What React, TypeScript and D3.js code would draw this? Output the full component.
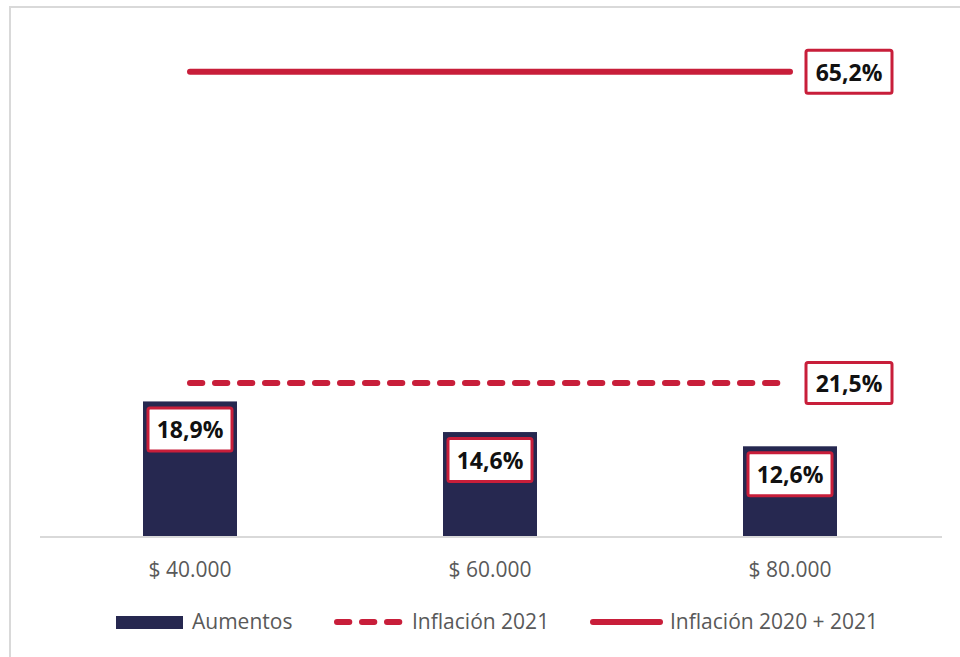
import React from "react";
import * as d3 from "d3";

const categories = ["$ 40.000", "$ 60.000", "$ 80.000"];
const aumentos = [18.9, 14.6, 12.6];
const inflacion2021 = 21.5;
const inflacion2020_2021 = 65.2;
const legendLabels = ["Aumentos", "Inflación 2021", "Inflación 2020 + 2021"];

const fmt = (v: number) => v.toFixed(1).replace(".", ",") + "%";

const W = 960;
const H = 657;
const NAVY = "#262850";
const RED = "#c81e3a";
const GRAY = "#595959";
const FONT = "'Open Sans', 'DejaVu Sans', sans-serif";

export default function App() {
  const x = d3.scaleBand<string>().domain(categories).range([40, 940]).paddingInner(0).paddingOuter(0);
  const y = d3.scaleLinear().domain([0, 70]).range([536, 536 - 70 * 7.12]);
  const barW = 94;
  const cx = (c: string) => (x(c) as number) + x.bandwidth() / 2;
  const lineX0 = cx(categories[0]);
  const lineX1 = cx(categories[categories.length - 1]);

  const lineGen = d3.line<[number, number]>().x((d) => d[0]).y((d) => d[1]);

  const LabelBox = ({ xc, yc, text, w = 85, h = 42 }: { xc: number; yc: number; text: string; w?: number; h?: number }) => (
    <g>
      <rect x={xc - w / 2} y={yc - h / 2} width={w} height={h} rx={2} fill="#fff" stroke={RED} strokeWidth={3} />
      <text x={xc} y={yc} textAnchor="middle" dominantBaseline="central" fontFamily={FONT} fontWeight={700} fontSize={23} fill="#111">
        {text}
      </text>
    </g>
  );

  const legendY = 622;

  return (
    <div style={{ position: "absolute", left: 0, top: 0 }}>
      <svg width={W} height={H} style={{ display: "block", background: "#fff" }}>
        <rect x={10} y={7} width={1000} height={1000} fill="#fff" stroke="#d9d9d9" strokeWidth={2} />

        {/* bars */}
        {categories.map((c, i) => (
          <rect key={c} x={cx(c) - barW / 2} y={y(aumentos[i])} width={barW} height={y(0) - y(aumentos[i])} fill={NAVY} />
        ))}

        {/* axis line */}
        <line x1={40} x2={942} y1={537} y2={537} stroke="#d9d9d9" strokeWidth={2} />

        {/* category labels */}
        {categories.map((c) => (
          <text key={c} x={cx(c)} y={577} textAnchor="middle" fontFamily={FONT} fontSize={21} fill={GRAY}>
            {c}
          </text>
        ))}

        {/* inflation lines */}
        <path
          d={lineGen([[lineX0, y(inflacion2021)], [lineX1, y(inflacion2021)]]) as string}
          stroke={RED}
          strokeWidth={6}
          strokeLinecap="round"
          strokeDasharray="12.3 12.7"
          fill="none"
        />
        <path
          d={lineGen([[lineX0, y(inflacion2020_2021)], [lineX1, y(inflacion2020_2021)]]) as string}
          stroke={RED}
          strokeWidth={6}
          strokeLinecap="round"
          fill="none"
        />

        {/* labels */}
        <LabelBox xc={lineX1 + 59} yc={y(inflacion2020_2021)} text={fmt(inflacion2020_2021)} w={86} h={43} />
        <LabelBox xc={lineX1 + 59} yc={y(inflacion2021)} text={fmt(inflacion2021)} w={86} h={41} />
        {categories.map((c, i) => (
          <LabelBox key={c} xc={cx(c)} yc={y(aumentos[i]) + 28} text={fmt(aumentos[i])} w={84} h={43} />
        ))}

        {/* legend */}
        <rect x={116} y={legendY - 6} width={67} height={13} fill={NAVY} />
        <text x={192} y={legendY + 7} fontFamily={FONT} fontSize={21} fill={GRAY}>
          {legendLabels[0]}
        </text>
        <line x1={337} x2={400} y1={legendY} y2={legendY} stroke={RED} strokeWidth={6} strokeLinecap="round" strokeDasharray="12.3 12.7" />
        <text x={412} y={legendY + 7} fontFamily={FONT} fontSize={21} fill={GRAY}>
          {legendLabels[1]}
        </text>
        <line x1={593} x2={660} y1={legendY} y2={legendY} stroke={RED} strokeWidth={6} strokeLinecap="round" />
        <text x={670} y={legendY + 7} fontFamily={FONT} fontSize={21} fill={GRAY}>
          {legendLabels[2]}
        </text>
      </svg>
    </div>
  );
}
